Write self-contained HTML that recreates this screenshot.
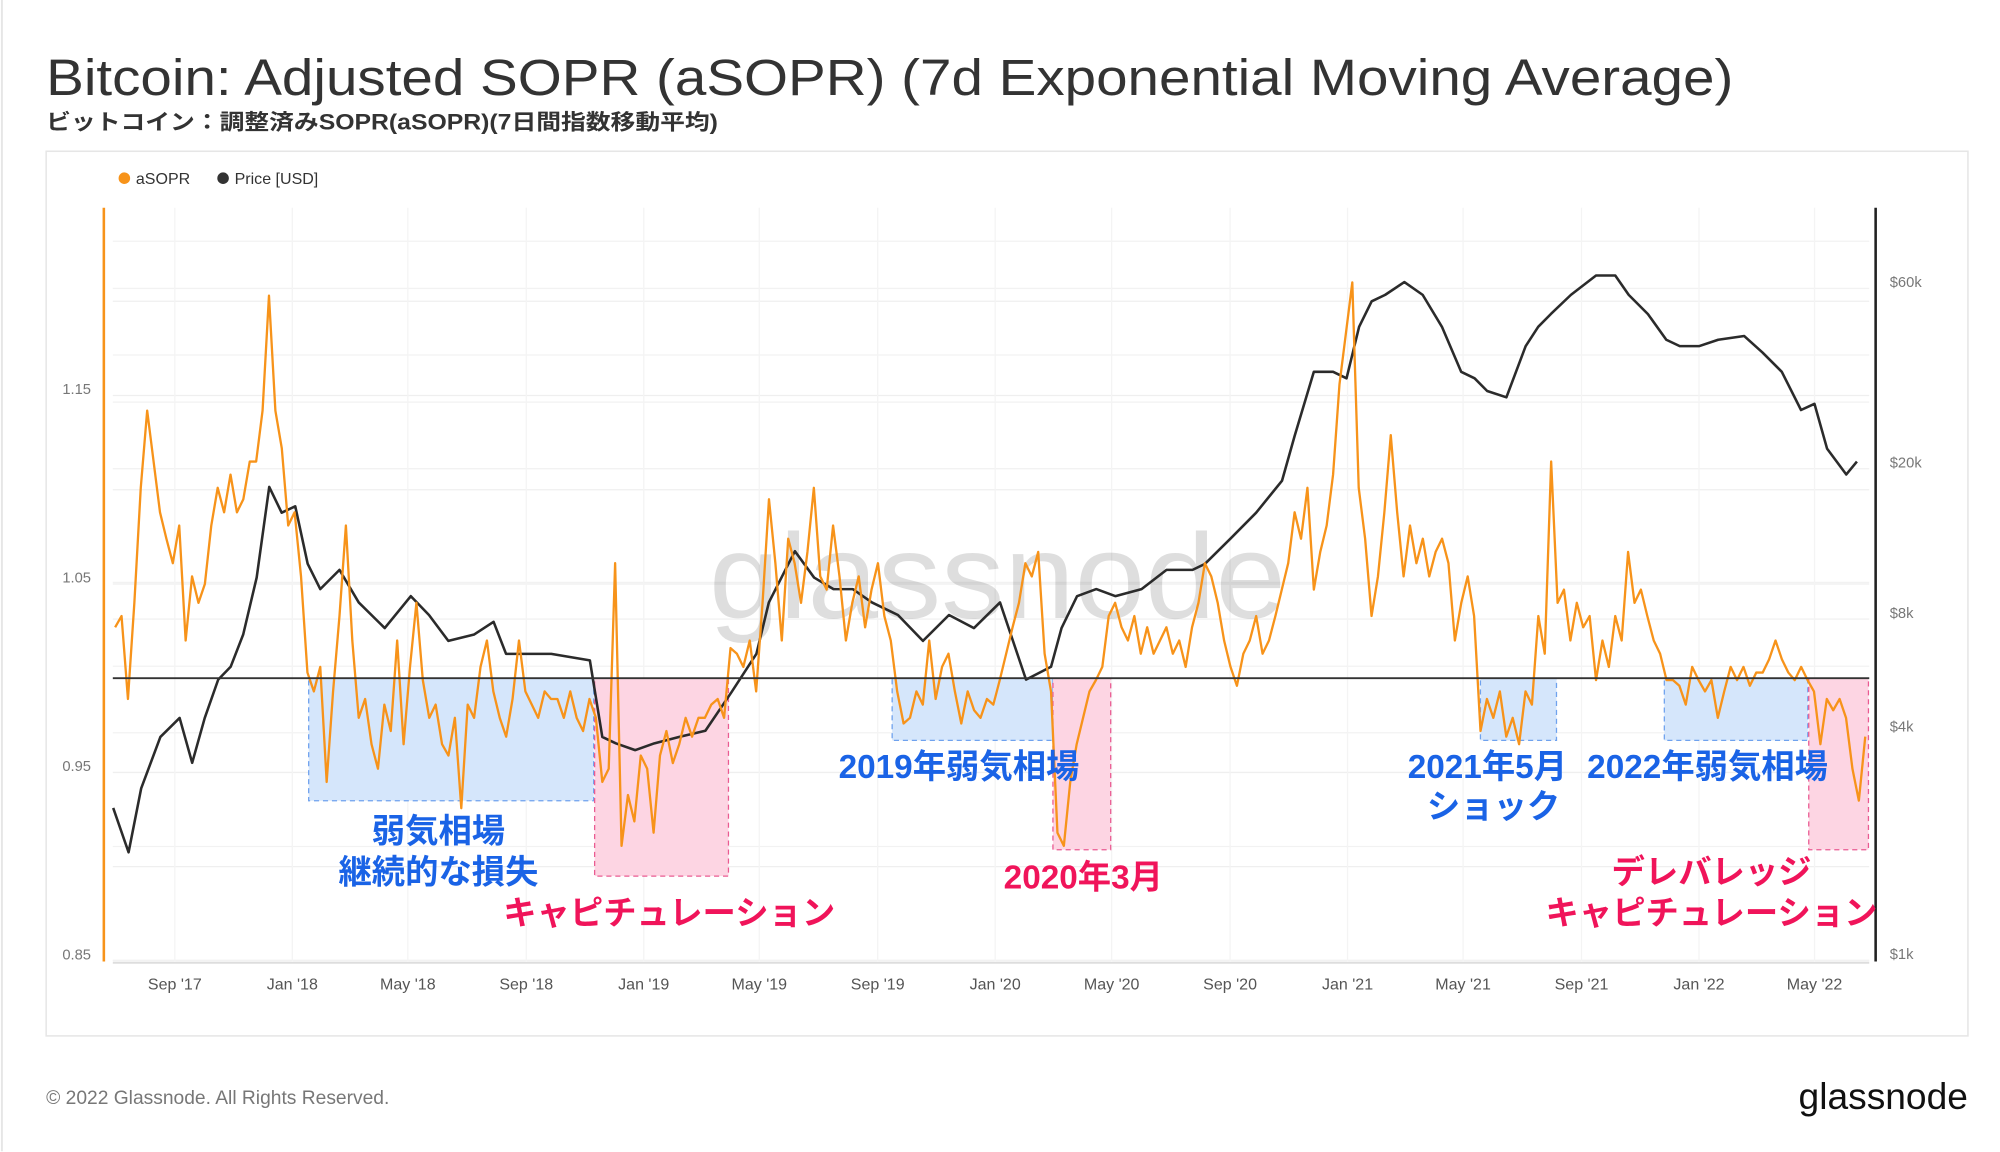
<!DOCTYPE html>
<html><head><meta charset="utf-8">
<style>
html,body{margin:0;padding:0;background:#fff;}
svg{display:block;font-family:"Liberation Sans","Noto Sans CJK JP",sans-serif;}
</style></head>
<body>
<svg id="chart" width="2000" height="1152" viewBox="0 0 1560 898.56" xmlns="http://www.w3.org/2000/svg">
<line x1="1.5" y1="0" x2="1.5" y2="898" stroke="#e6e6e6" stroke-width="1.5"/>
<text x="36" y="74" font-size="40" fill="#333" textLength="1316" lengthAdjust="spacingAndGlyphs">Bitcoin: Adjusted SOPR (aSOPR) (7d Exponential Moving Average)</text>
<text x="36" y="101" font-size="17" font-weight="bold" fill="#333" textLength="524" lengthAdjust="spacingAndGlyphs">ビットコイン：調整済みSOPR(aSOPR)(7日間指数移動平均)</text>
<rect x="36" y="118" width="1499" height="690" fill="#fff" stroke="#e6e6e6" stroke-width="1.2"/>
<g>
<g><circle cx="97" cy="139" r="4.5" fill="#f7931a"/><text x="106" y="143.5" font-size="12.5" fill="#333">aSOPR</text></g>
<g><circle cx="174" cy="139" r="4.5" fill="#333"/><text x="183" y="143.5" font-size="12.5" fill="#333">Price [USD]</text></g>
</g>
<g id="grid"></g>
<text x="778" y="482" font-size="94" fill="#000" fill-opacity="0.13" text-anchor="middle" textLength="450" lengthAdjust="spacingAndGlyphs">glassnode</text>
<g id="regions"></g>
<g id="series"></g>
<g id="axes"></g>
<g font-weight="bold" font-size="26">
<text x="342" y="657" fill="#1a63e6" text-anchor="middle">弱気相場</text>
<text x="342" y="689" fill="#1a63e6" text-anchor="middle">継続的な損失</text>
<text x="522" y="721" fill="#f0145a" text-anchor="middle">キャピチュレーション</text>
<text x="748" y="607" fill="#1a63e6" text-anchor="middle">2019年弱気相場</text>
<text x="845" y="693" fill="#f0145a" text-anchor="middle">2020年3月</text>
<text x="1098" y="607" fill="#1a63e6">2021年5月</text>
<text x="1113" y="638" fill="#1a63e6">ショック</text>
<text x="1238" y="607" fill="#1a63e6">2022年弱気相場</text>
<text x="1335" y="689" fill="#f0145a" text-anchor="middle">デレバレッジ</text>
<text x="1335" y="721" fill="#f0145a" text-anchor="middle">キャピチュレーション</text>
</g>
<text x="36" y="861" font-size="15" fill="#777">© 2022 Glassnode. All Rights Reserved.</text>
<text x="1535" y="865" font-size="29" fill="#111" text-anchor="end">glassnode</text>
</svg>
<script>
// ---- data ----
const xTickLabels = ["Sep '17","Jan '18","May '18","Sep '18","Jan '19","May '19","Sep '19","Jan '20","May '20","Sep '20","Jan '21","May '21","Sep '21","Jan '22","May '22"];
const xTickDates = ["2017-09-01","2018-01-01","2018-05-01","2018-09-01","2019-01-01","2019-05-01","2019-09-01","2020-01-01","2020-05-01","2020-09-01","2021-01-01","2021-05-01","2021-09-01","2022-01-01","2022-05-01"];
const leftTicks = [0.85, 0.95, 1.05, 1.15];
const leftTickLabels = ["0.85","0.95","1.05","1.15"];
const rightTicks = [1000, 4000, 8000, 20000, 60000];
const rightTickLabels = ["$1k","$4k","$8k","$20k","$60k"];
const priceDays = [-186,-170,-157,-137,-117,-104,-91,-77,-64,-51,-37,-24,-11,3,16,29,49,69,96,123,142,162,189,209,222,242,269,309,322,336,356,376,402,429,456,482,495,522,542,562,582,602,629,655,682,708,735,762,788,799,815,835,855,882,908,935,948,975,1001,1028,1041,1061,1081,1095,1108,1121,1135,1155,1174,1194,1214,1228,1241,1261,1281,1294,1307,1328,1354,1374,1388,1408,1427,1441,1461,1481,1508,1527,1547,1567,1581,1594,1614,1625,1630,1638];
const priceValues = [2530,1930,2850,3900,4380,3330,4380,5530,5980,7280,10300,17900,15300,15900,11200,9600,10800,8850,7570,9200,8200,7000,7280,7870,6470,6470,6470,6220,3900,3750,3600,3750,3900,4050,5120,6470,8850,12100,10300,9600,9600,8850,8200,7000,8200,7570,8850,5530,5980,7570,9200,9600,9200,9600,10800,10800,11200,13100,15300,18600,24400,36100,36100,34700,47500,55500,57700,62400,57700,47500,36100,34700,32100,30900,42200,47500,51300,57700,64900,64900,57700,51300,43900,42200,42200,43900,44900,40600,36100,28600,29700,22600,19300,20900];
const asoprStartDay = -184;
const asoprStepDays = 6.658;
const asoprValues = [1.027,1.033,0.989,1.040,1.101,1.142,1.115,1.088,1.074,1.061,1.081,1.020,1.054,1.040,1.050,1.081,1.101,1.088,1.108,1.088,1.095,1.115,1.115,1.142,1.203,1.142,1.122,1.081,1.088,1.054,1.003,0.993,1.006,0.945,0.993,1.033,1.081,1.020,0.979,0.989,0.965,0.952,0.986,0.972,1.020,0.965,1.006,1.040,0.999,0.979,0.986,0.965,0.959,0.979,0.931,0.986,0.979,1.006,1.020,0.993,0.979,0.969,0.989,1.020,0.993,0.986,0.979,0.993,0.989,0.989,0.979,0.993,0.979,0.972,0.989,0.979,0.945,0.952,1.061,0.911,0.938,0.924,0.959,0.952,0.918,0.959,0.972,0.955,0.965,0.979,0.969,0.979,0.979,0.986,0.989,0.979,1.016,1.013,1.006,1.020,0.993,1.040,1.095,1.061,1.020,1.074,1.061,1.040,1.067,1.101,1.054,1.047,1.081,1.054,1.020,1.040,1.054,1.027,1.047,1.061,1.033,1.020,0.993,0.976,0.979,0.993,0.986,1.020,0.989,1.006,1.013,0.993,0.976,0.993,0.983,0.979,0.989,0.986,0.999,1.013,1.027,1.040,1.061,1.054,1.067,1.013,0.993,0.918,0.911,0.945,0.965,0.979,0.993,0.999,1.006,1.033,1.040,1.027,1.020,1.033,1.013,1.027,1.013,1.020,1.027,1.013,1.020,1.006,1.027,1.040,1.061,1.054,1.040,1.020,1.006,0.996,1.013,1.020,1.033,1.013,1.020,1.033,1.047,1.061,1.088,1.074,1.101,1.047,1.067,1.081,1.108,1.156,1.183,1.210,1.101,1.074,1.033,1.054,1.088,1.129,1.088,1.054,1.081,1.061,1.074,1.054,1.067,1.074,1.061,1.020,1.040,1.054,1.033,0.972,0.989,0.979,0.993,0.969,0.979,0.965,0.993,0.986,1.033,1.013,1.115,1.040,1.047,1.020,1.040,1.027,1.033,0.999,1.020,1.006,1.033,1.020,1.067,1.040,1.047,1.033,1.020,1.013,0.999,0.999,0.996,0.986,1.006,0.999,0.993,0.999,0.979,0.993,1.006,0.999,1.006,0.996,1.003,1.003,1.010,1.020,1.010,1.003,0.999,1.006,0.999,0.993,0.965,0.989,0.983,0.989,0.979,0.952,0.935,0.969];
const blueRegionStart = ["2018-01-18","2019-09-16","2021-05-19","2021-11-26"];
const blueRegionEnd = ["2018-11-10","2020-03-01","2021-08-06","2022-04-24"];
const blueRegionLow = [0.935, 0.967, 0.967, 0.967];
const pinkRegionStart = ["2018-11-11","2020-03-01","2022-04-25"];
const pinkRegionEnd = ["2019-03-30","2020-04-30","2022-06-26"];
const pinkRegionLow = [0.895, 0.909, 0.909];

// ---- scales ----
const NS = "http://www.w3.org/2000/svg";
const base = Date.UTC(2018,0,1);
function dayOf(s){const p=s.split('-');return (Date.UTC(+p[0],+p[1]-1,+p[2])-base)/86400000;}
function xScale(d){return 228 + d*0.751;}
function yLeft(v){return 529 - (v-1)*1470;}
function yRight(p){return 749 - (Math.log10(p)-3)*294.7;}
function mk(tag, attrs, parent){const e=document.createElementNS(NS,tag);for(const k in attrs)e.setAttribute(k,attrs[k]);parent.appendChild(e);return e;}

const grid=document.getElementById('grid');
for(let v=0.85; v<=1.24; v+=0.05){
  const l=mk('line',{x1:88,x2:1458,y1:yLeft(v),y2:yLeft(v),stroke:'#efefef','stroke-width':1},grid);
  
  
}
[2000,6000,10000,30000,40000,80000].concat(rightTicks).forEach(p=>{
  const y=yRight(p); if(y<162) return;
  const l=mk('line',{x1:88,x2:1458,y1:y,y2:y,stroke:'#f2f2f2','stroke-width':1},grid);
  
  
});
xTickDates.forEach(d=>{
  const x=xScale(dayOf(d));
  const l=mk('line',{x1:x,x2:x,y1:162,y2:750,stroke:'#f4f4f4','stroke-width':1},grid);
  
  
});

const regions=document.getElementById('regions');
blueRegionStart.forEach((s,i)=>{
  const x1=xScale(dayOf(s)), x2=xScale(dayOf(blueRegionEnd[i]));
  const r=mk('rect',{x:x1,y:yLeft(1),width:x2-x1,height:yLeft(blueRegionLow[i])-yLeft(1),fill:'#d5e6fb',stroke:'#6fa2ee','stroke-dasharray':'4 3','stroke-width':1},regions);
  
  
});
pinkRegionStart.forEach((s,i)=>{
  const x1=xScale(dayOf(s)), x2=xScale(dayOf(pinkRegionEnd[i]));
  const r=mk('rect',{x:x1,y:yLeft(1),width:x2-x1,height:yLeft(pinkRegionLow[i])-yLeft(1),fill:'#fdd5e3',stroke:'#ea5b92','stroke-dasharray':'4 3','stroke-width':1},regions);
  
  
});

const series=document.getElementById('series');
const pricePts=priceDays.map((d,i)=>xScale(d).toFixed(1)+','+yRight(priceValues[i]).toFixed(1)).join(' ');
const pl=mk('polyline',{points:pricePts,fill:'none',stroke:'#2b2b2b','stroke-width':2,'stroke-linejoin':'round'},series);


const aPts=asoprValues.map((v,i)=>xScale(asoprStartDay+i*asoprStepDays).toFixed(1)+','+yLeft(v).toFixed(1)).join(' ');
const al=mk('polyline',{points:aPts,fill:'none',stroke:'#f7931a','stroke-width':1.8,'stroke-linejoin':'round'},series);


const bl=mk('line',{x1:88,x2:1458,y1:yLeft(1),y2:yLeft(1),stroke:'#333','stroke-width':1.5},series);



const axes=document.getElementById('axes');
const la=mk('line',{x1:81,x2:81,y1:162,y2:750,stroke:'#f7931a','stroke-width':2},axes);


const ra=mk('line',{x1:1463,x2:1463,y1:162,y2:750,stroke:'#222','stroke-width':2},axes);


const xa=mk('line',{x1:88,x2:1458,y1:751,y2:751,stroke:'#ddd','stroke-width':1.5},axes);


leftTicks.forEach((v,i)=>{
  const t=mk('text',{x:71,y:yLeft(v)-1,'font-size':11.5,fill:'#777','text-anchor':'end'},axes);
  t.textContent=leftTickLabels[i];
  
  
});
rightTicks.forEach((p,i)=>{
  const t=mk('text',{x:1474,y:yRight(p)-1,'font-size':11.5,fill:'#777'},axes);
  t.textContent=rightTickLabels[i];
  
  
});
xTickDates.forEach((d,i)=>{
  const t=mk('text',{x:xScale(dayOf(d)),y:772,'font-size':12.5,fill:'#555','text-anchor':'middle'},axes);
  t.textContent=xTickLabels[i];
  
  
});
</script>
</body></html>
